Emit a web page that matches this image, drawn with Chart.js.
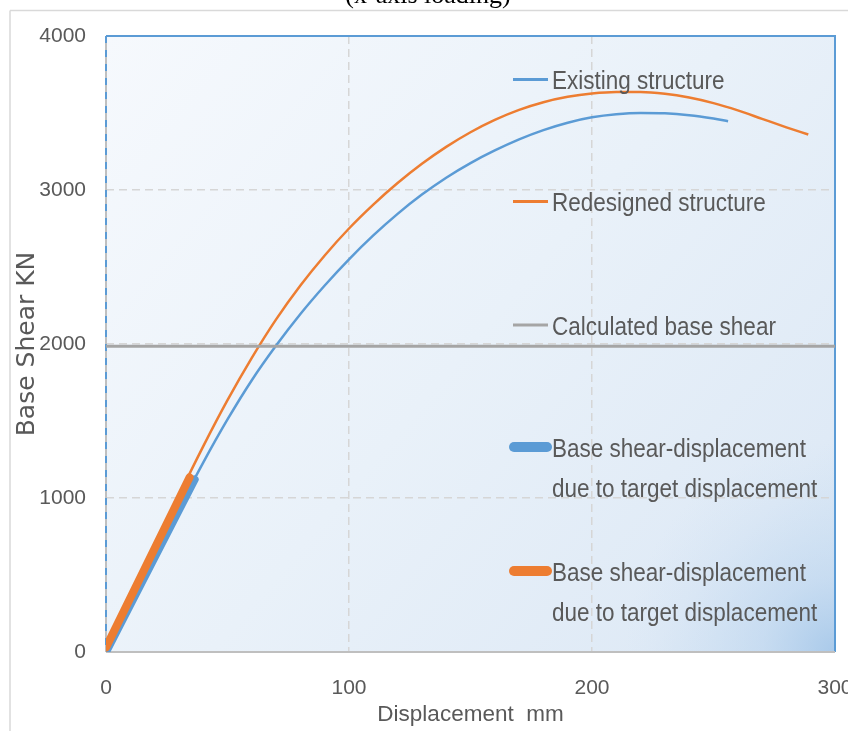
<!DOCTYPE html>
<html><head><meta charset="utf-8">
<style>
html,body{margin:0;padding:0;background:#fff;}
#wrap{position:relative;width:848px;height:731px;overflow:hidden;}
#ttl{position:absolute;left:0;width:856px;top:-20px;text-align:center;font:26px "Liberation Serif","Times New Roman",serif;color:#000;white-space:nowrap;}
canvas{position:absolute;left:0;top:0;}
</style>
<script src="https://cdn.jsdelivr.net/npm/chart.js@4"></script>
</head><body>
<div id="wrap"><canvas id="c" width="848" height="731"></canvas><div id="ttl">(x-axis loading)</div></div>
<script>
const xAxisTitle = "Displacement  mm";
const yAxisTitle = "Base Shear KN";
const xTickValues = [0, 100, 200, 300];
const yTickValues = [0, 1000, 2000, 3000, 4000];
const seriesLabels = [
  "Existing structure",
  "Redesigned structure",
  "Calculated base shear",
  "Base shear-displacement\ndue to target displacement",
  "Base shear-displacement\ndue to target displacement"
];
const existingX = [0,10,20,30,40,50,60,70,80,90,100,110,120,130,140,150,160,170,180,190,200,210,220,230,240,250,256];
const existingY = [0,310,620,930,1230,1510,1765,1990,2195,2380,2550,2705,2845,2970,3080,3175,3257,3329,3389,3437,3472,3492,3500,3498,3486,3464,3447];
const redesignedX = [0,10,20,30,40,50,60,70,80,90,100,110,120,130,140,150,160,170,180,190,200,210,220,230,240,250,260,270,280,289];
const redesignedY = [0,340,680,1015,1335,1635,1910,2160,2380,2575,2750,2905,3045,3170,3280,3375,3455,3520,3570,3605,3627,3637,3637,3625,3600,3564,3517,3462,3407,3360];
const calcX = [0, 300];
const calcY = [1985, 1985];
const targetExistingX = [0, 36.5];
const targetExistingY = [0, 1120];
const targetRedesignedX = [0, 34.4];
const targetRedesignedY = [30, 1134];

const BLUE = '#5B9BD5', ORANGE = '#ED7D31', GREY = '#A5A5A5', TXT = '#595959';
const SANS = '"Liberation Sans",Arial,sans-serif';
const pts = (xs, ys) => xs.map((x, i) => ({x, y: ys[i]}));

const bgPlugin = {
  id: 'bg',
  beforeDraw(chart) {
    const {ctx, chartArea: a} = chart;
    ctx.save();
    ctx.strokeStyle = '#d9d9d9'; ctx.lineWidth = 1.5;
    ctx.beginPath();
    ctx.moveTo(10, 10.5); ctx.lineTo(chart.width, 10.5);
    ctx.moveTo(10, 10.5); ctx.lineTo(10, chart.height);
    ctx.stroke();
    const w = a.right - a.left, h = a.bottom - a.top;
    const g = ctx.createLinearGradient(a.left, a.top, a.right, a.bottom);
    g.addColorStop(0, '#f6f9fd'); g.addColorStop(0.5, '#e9f1f9');
    g.addColorStop(0.85, '#dfeaf6'); g.addColorStop(1, '#d2e3f3');
    ctx.fillStyle = g; ctx.fillRect(a.left, a.top, w, h);
    const r = ctx.createRadialGradient(a.right, a.bottom, 0, a.right, a.bottom, 210);
    r.addColorStop(0, 'rgba(165,199,233,0.9)');
    r.addColorStop(0.35, 'rgba(180,208,237,0.45)');
    r.addColorStop(1, 'rgba(200,220,242,0)');
    ctx.fillStyle = r; ctx.fillRect(a.left, a.top, w, h);
    ctx.restore();
  },
  beforeDatasetsDraw(chart) {
    const {ctx, chartArea: a} = chart;
    ctx.save();
    ctx.lineWidth = 2;
    ctx.strokeStyle = '#bfbfbf';
    ctx.beginPath(); ctx.moveTo(a.left, a.top); ctx.lineTo(a.left, a.bottom); ctx.stroke();
    ctx.strokeStyle = BLUE; ctx.setLineDash([7, 7]);
    ctx.beginPath(); ctx.moveTo(a.left, a.top); ctx.lineTo(a.left, a.bottom); ctx.stroke();
    ctx.setLineDash([]);
    ctx.beginPath(); ctx.moveTo(a.left, a.top); ctx.lineTo(a.right, a.top); ctx.lineTo(a.right, a.bottom); ctx.stroke();
    ctx.strokeStyle = '#bfbfbf';
    ctx.beginPath(); ctx.moveTo(a.left, a.bottom); ctx.lineTo(a.right, a.bottom); ctx.stroke();
    ctx.restore();
  }
};

const legendPlugin = {
  id: 'insideLegend',
  afterDraw(chart) {
    const {ctx} = chart;
    const sampleY = [79.5, 201.5, 325, 447, 571];
    const x0 = 513, x1 = 548, tx = 552;
    ctx.save();
    ctx.font = '22.5px ' + SANS;
    ctx.fillStyle = TXT;
    ctx.textBaseline = 'alphabetic';
    chart.data.datasets.forEach((ds, i) => {
      const y = sampleY[i];
      ctx.strokeStyle = ds.borderColor;
      const thick = ds.borderWidth > 5;
      ctx.lineWidth = thick ? 10 : 3;
      ctx.lineCap = thick ? 'round' : 'butt';
      ctx.beginPath();
      ctx.moveTo(thick ? x0 + 1 : x0, y); ctx.lineTo(thick ? x1 - 1 : x1, y);
      ctx.stroke();
      ds.label.split('\n').forEach((line, k) => {
        ctx.save();
        ctx.translate(tx, y + 9.5 + k * 40);
        ctx.scale(1, 1.13);
        ctx.fillText(line, 0, 0);
        ctx.restore();
      });
    });
    ctx.restore();
  }
};

const edgeHidden = (vals) => (c) => (c.tick && (c.tick.value === vals[0] || c.tick.value === vals[vals.length - 1])) ? 'rgba(0,0,0,0)' : '#d6d6d6';
const plain = v => String(v);

new Chart(document.getElementById('c'), {
  type: 'scatter',
  data: {
    datasets: [
      {label: seriesLabels[0], data: pts(existingX, existingY), borderColor: BLUE, borderWidth: 2.5, order: 5},
      {label: seriesLabels[1], data: pts(redesignedX, redesignedY), borderColor: ORANGE, borderWidth: 2.5, order: 4},
      {label: seriesLabels[2], data: pts(calcX, calcY), borderColor: GREY, borderWidth: 3, order: 3},
      {label: seriesLabels[3], data: pts(targetExistingX, targetExistingY), borderColor: BLUE, borderWidth: 8, borderCapStyle: 'round', order: 2},
      {label: seriesLabels[4], data: pts(targetRedesignedX, targetRedesignedY), borderColor: ORANGE, borderWidth: 8, borderCapStyle: 'round', order: 1}
    ].map(d => Object.assign(d, {showLine: true, pointRadius: 0, pointHoverRadius: 0, fill: false, cubicInterpolationMode: 'monotone', backgroundColor: d.borderColor}))
  },
  options: {
    responsive: false,
    animation: false,
    devicePixelRatio: 1,
    layout: {padding: {top: 36, right: 13, left: 0, bottom: 0}},
    plugins: {legend: {display: false}, tooltip: {enabled: false}, title: {display: false}},
    scales: {
      x: {
        type: 'linear', min: 0, max: 300,
        afterBuildTicks: s => { s.ticks = xTickValues.map(v => ({value: v})); },
        afterFit: s => { s.height = 79; s.paddingLeft = 0; s.paddingRight = 0; },
        grid: {color: edgeHidden(xTickValues), lineWidth: 1.5, drawTicks: false},
        border: {display: false, dash: [8, 5]},
        ticks: {color: TXT, font: {family: SANS, size: 21}, padding: 24, maxRotation: 0, autoSkip: false, callback: plain},
        title: {display: true, text: xAxisTitle, color: TXT, font: {family: SANS, size: 22.5}, padding: {top: 0, bottom: 3}}
      },
      y: {
        type: 'linear', min: 0, max: 4000,
        afterBuildTicks: s => { s.ticks = yTickValues.map(v => ({value: v})); },
        afterFit: s => { s.width = 106; },
        grid: {color: edgeHidden(yTickValues), lineWidth: 1.5, drawTicks: false},
        border: {display: false, dash: [8, 5]},
        ticks: {color: TXT, font: {family: SANS, size: 21}, padding: 20, autoSkip: false, callback: plain},
        title: {display: true, text: yAxisTitle, color: TXT, font: {family: '"DejaVu Sans",sans-serif', size: 25}, padding: {top: 12, bottom: 0}}
      }
    }
  },
  plugins: [bgPlugin, legendPlugin]
});
</script>
</body></html>
